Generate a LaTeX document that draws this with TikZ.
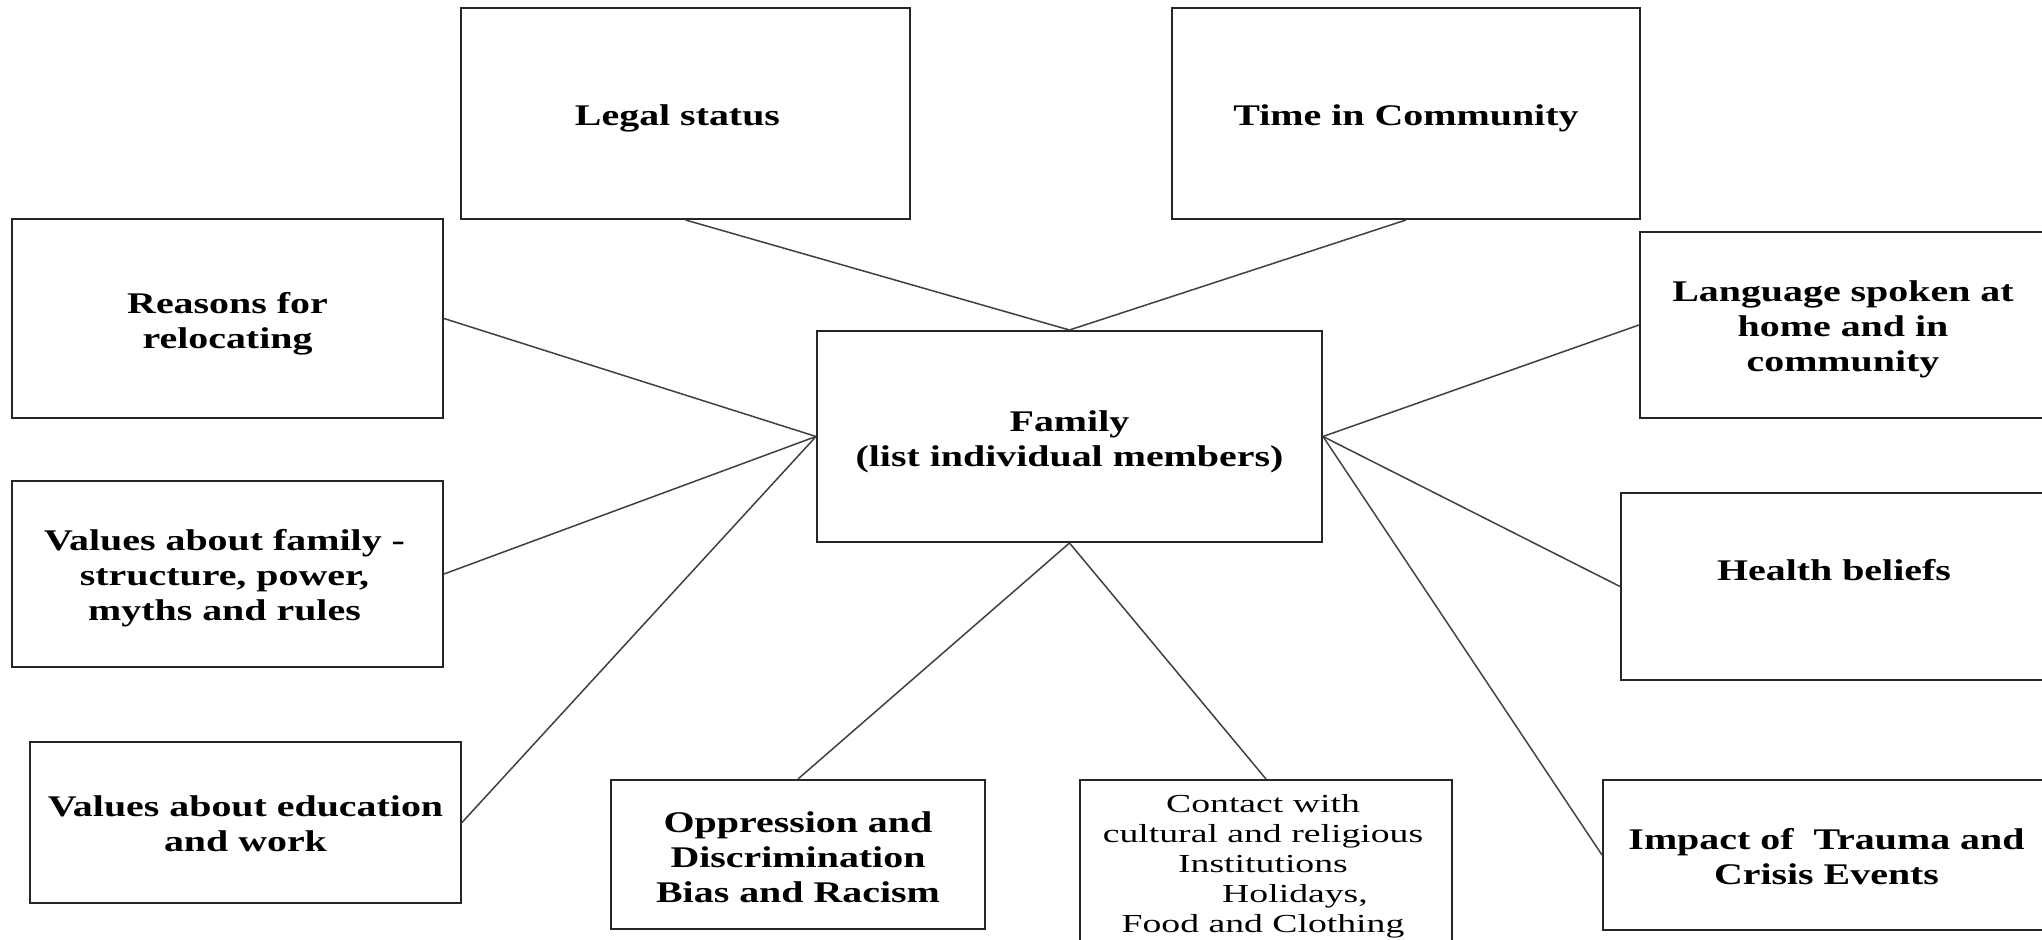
\documentclass[tikz,border=0pt]{standalone}
\usepackage{fontspec}
\setmainfont{Liberation Serif}[FakeStretch=1.33]
\newfontfamily\contactfont{Liberation Serif}[FakeStretch=1.45]
\begin{document}
\begin{tikzpicture}[x=0.5pt,y=-0.5pt,
  box/.style={draw=black!85, line width=1pt, rectangle, inner sep=0pt},
  txt/.style={inner sep=0pt, align=center, font=\bfseries\fontsize{15}{17.5}\selectfont},
  ctxt/.style={inner sep=0pt, align=center, font=\contactfont\fontsize{13}{15}\selectfont},
  link/.style={draw=black!75, line width=0.75pt}]
\useasboundingbox (0,0) rectangle (2042,940);
\clip (0,0) rectangle (2042,940);
\fill[white] (0,0) rectangle (2042,940);

% boxes
\node[box, minimum width=224.5pt, minimum height=105.5pt] (legal) at (685.5,113.5) {};
\node[box, minimum width=234pt, minimum height=105.5pt] (time) at (1406,113.5) {};
\node[box, minimum width=215.5pt, minimum height=99.5pt] (reasons) at (227.5,318.5) {};
\node[box, minimum width=252.5pt, minimum height=105.5pt] (family) at (1069.5,436.5) {};
\node[box, minimum width=203pt, minimum height=93pt] (lang) at (1843,325) {};
\node[box, minimum width=215.5pt, minimum height=93pt] (valfam) at (227.5,574) {};
\node[box, minimum width=213.5pt, minimum height=93.5pt] (health) at (1834.5,586.5) {};
\node[box, minimum width=215.5pt, minimum height=80.5pt] (valedu) at (245.5,822.5) {};
\node[box, minimum width=187pt, minimum height=74.5pt] (opp) at (798,854.5) {};
\node[box, minimum width=186pt, minimum height=110pt] (contact) at (1266,890) {};
\node[box, minimum width=223.5pt, minimum height=75pt] (impact) at (1826.5,855) {};

% texts
\node[txt, yshift=-2.5pt, xshift=-4pt] (legaltxt) at (legal) {Legal status};
\node[txt, yshift=-2.5pt] (timetxt) at (time) {Time in Community};
\node[txt, yshift=-2.5pt] (reasonstxt) at (reasons) {Reasons for\\relocating};
\node[txt, yshift=-2.5pt] (familytxt) at (family) {Family\\(list individual members)};
\node[txt, yshift=-2pt] (langtxt) at (lang) {Language spoken at\\home and in\\community};
\node[txt, yshift=-2pt, xshift=-1.5pt] (valfamtxt) at (valfam) {Values about family -\\structure, power,\\myths and rules};
\node[txt] (healthtxt) at (1834,570) {Health beliefs};
\node[txt, yshift=-0.7pt] (valedutxt) at (valedu) {Values about education\\and work};
\node[txt, yshift=-1.2pt] (opptxt) at (opp) {Oppression and\\Discrimination\\Bias and Racism};
\node[ctxt, anchor=north] (contacttxt) at (1263,794) {Contact with\\cultural and religious\\Institutions\\\hspace*{32pt}Holidays,\\Food and Clothing};
\node[txt, yshift=-0.7pt] (impacttxt) at (impact) {Impact of\ \ Trauma and\\Crisis Events};

% connectors
\draw[link] (legal.south) -- (family.north);
\draw[link] (time.south) -- (family.north);
\draw[link] (reasons.east) -- (family.west);
\draw[link] (valfam.east) -- (family.west);
\draw[link] (valedu.east) -- (family.west);
\draw[link] (opp.north) -- (family.south);
\draw[link] (contact.north) -- (family.south);
\draw[link] (lang.west) -- (family.east);
\draw[link] (health.west) -- (family.east);
\draw[link] (impact.west) -- (family.east);
\end{tikzpicture}
\end{document}
